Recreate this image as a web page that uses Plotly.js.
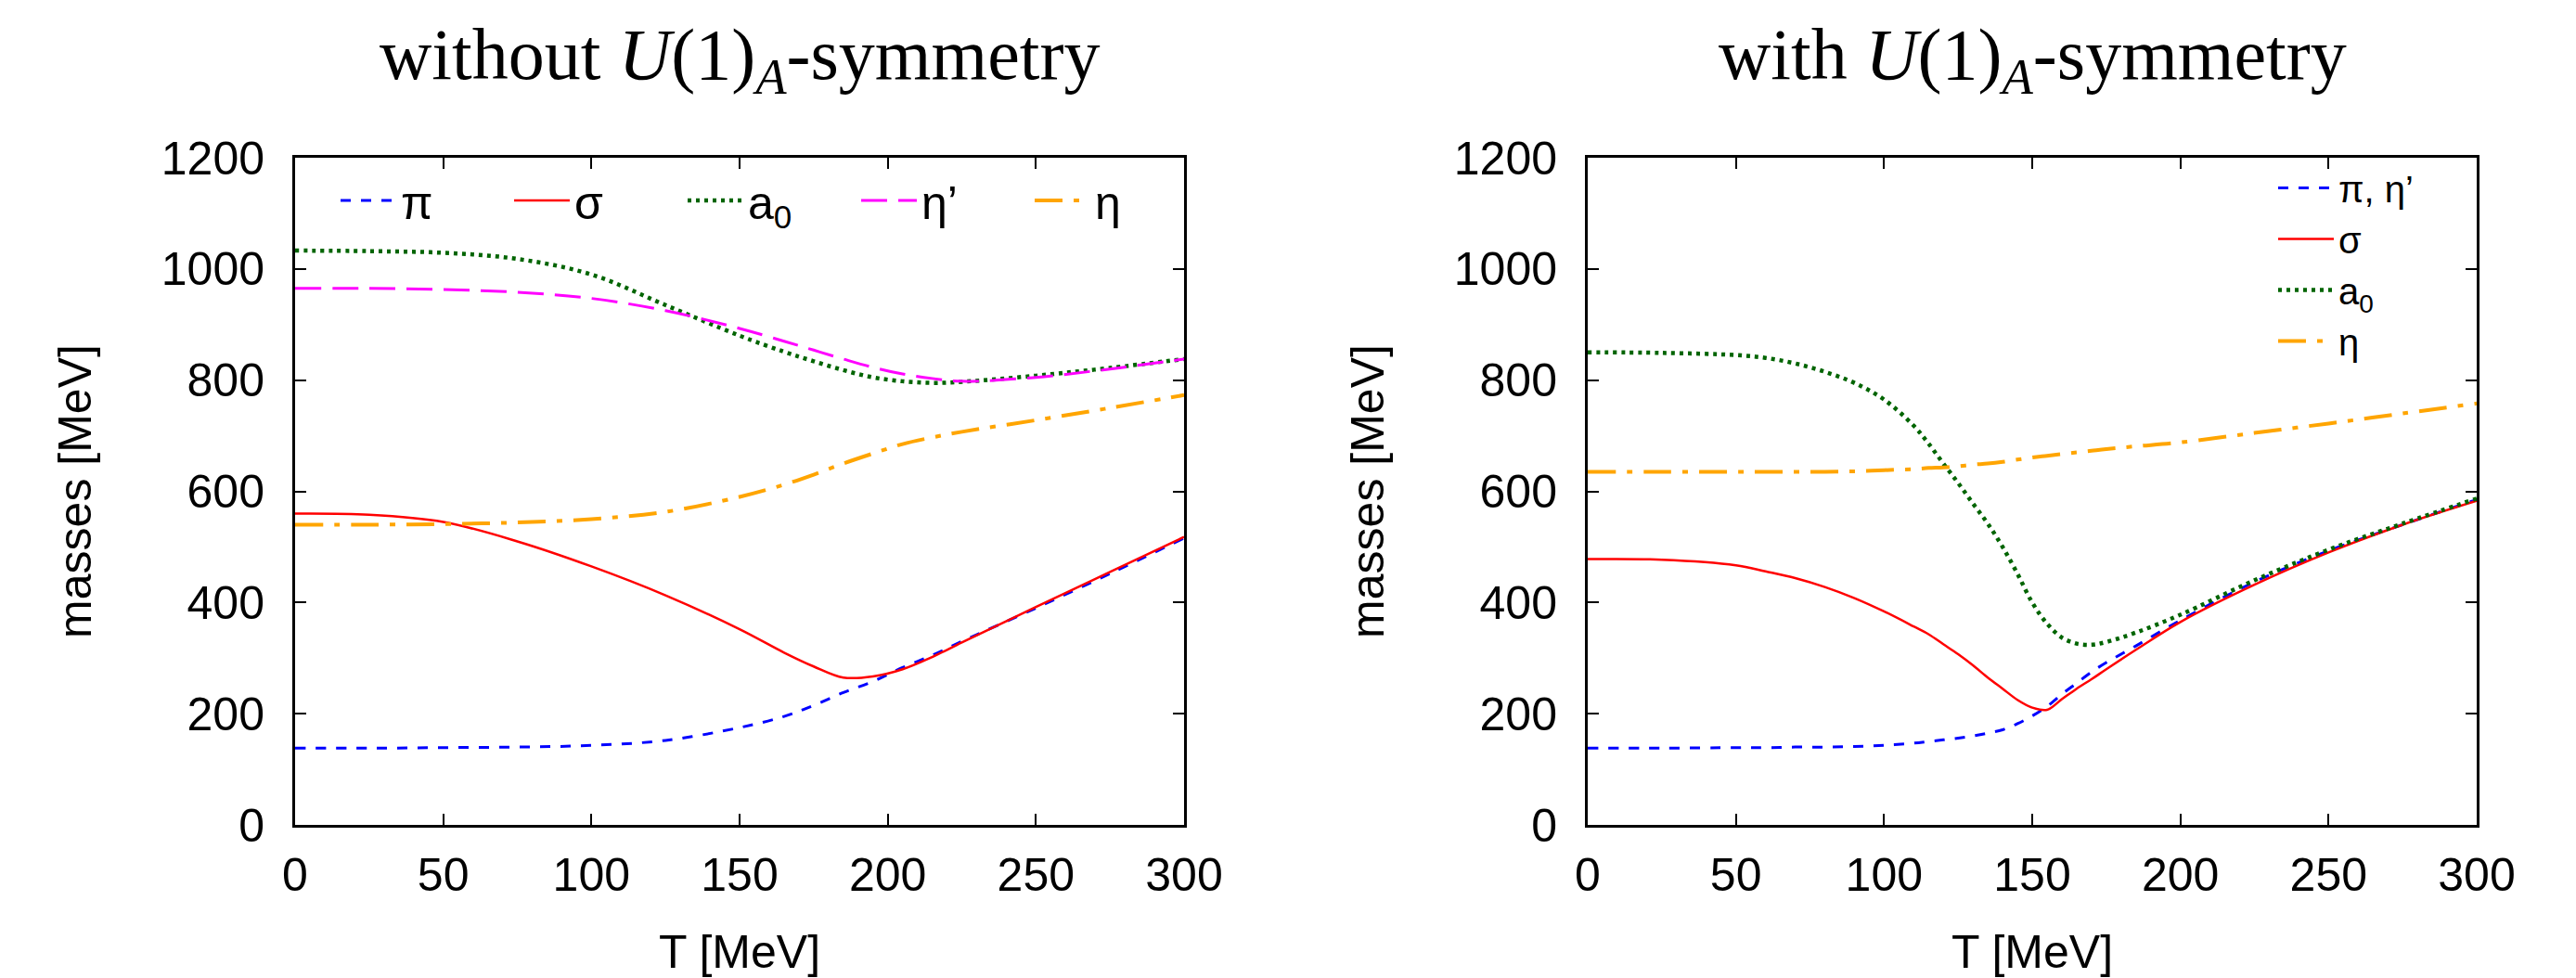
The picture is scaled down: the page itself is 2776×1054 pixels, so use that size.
<!DOCTYPE html>
<html>
<head>
<meta charset="utf-8">
<script src="https://cdn.plot.ly/plotly-3.0.1.min.js"></script>
<style>html,body{margin:0;padding:0;background:#fff;}</style>
</head>
<body>
<div id="chart" style="width:2776px;height:1054px;"></div>
<script>
// ---------- data: left panel (without U(1)_A symmetry) ----------
const T_left = [0, 25, 50, 75, 100, 125, 150, 165, 175, 185, 195, 205, 215, 225, 250, 275, 300];
const pi_left = [138, 138, 139, 140, 143, 152, 175, 195, 215, 238, 258, 283, 305, 330, 390, 452, 516];
const sigma_left = [560, 558, 545, 510, 465, 413, 352, 310, 285, 265, 267, 280, 302, 328, 392, 455, 518];
const a0_left = [1033, 1032, 1029, 1018, 990, 935, 880, 851, 834, 818, 805, 798, 795, 797, 808, 822, 838];
const etap_left = [965, 965, 963, 958, 947, 925, 893, 870, 854, 838, 823, 811, 803, 798, 805, 820, 838];
const eta_left = [540, 540, 541, 544, 550, 563, 590, 612, 630, 650, 668, 685, 697, 707, 728, 750, 773];

// ---------- data: right panel (with U(1)_A symmetry) ----------
const T_right = [0, 25, 50, 60, 70, 80, 90, 100, 110, 115, 120, 125, 130, 135, 140, 145, 150, 155, 160, 165, 170, 175, 185, 200, 225, 250, 275, 300];
const pieta_right = [138, 138, 139, 139, 140, 140, 141, 143, 147, 150, 153, 156, 160, 165, 171, 182, 196, 213, 235, 255, 275, 292, 322, 368, 437, 493, 540, 585];
const sigma_right = [478, 477, 467, 456, 444, 428, 408, 384, 357, 343, 325, 307, 287, 265, 245, 225, 211, 207, 226, 245, 262, 280, 315, 365, 432, 490, 540, 583];
const a0_right = [850, 849, 845, 840, 830, 815, 795, 765, 718, 686, 650, 615, 578, 542, 500, 452, 400, 362, 337, 326, 324, 329, 346, 378, 440, 495, 542, 587];
const eta_right = [635, 635, 635, 635, 635, 635, 636, 638, 640, 642, 643, 645, 648, 650, 653, 657, 661, 664, 667, 670, 673, 676, 681, 688, 705, 722, 740, 758];

// ---------- labels ----------
const titleLeft = 'without <i>U</i>(1)<sub><i>A</i></sub>-symmetry';
const titleRight = 'with <i>U</i>(1)<sub><i>A</i></sub>-symmetry';
const xTitle = 'T [MeV]';
const yTitle = 'masses [MeV]';

// ---------- styles ----------
const BLUE = '#0000ff', RED = '#ff0000', GREEN = '#006400', MAGENTA = '#ff00ff', ORANGE = '#ffa500';
const stBlue = {color: BLUE, width: 3, dash: '11px,11px', shape: 'spline'};
const stRed = {color: RED, width: 2.5, shape: 'spline'};
const stGreen = {color: GREEN, width: 4.5, dash: '4px,5px', shape: 'spline'};
const stMag = {color: MAGENTA, width: 3, dash: '28px,12px', shape: 'spline'};
const stOrange = {color: ORANGE, width: 4, dash: '30px,12px,6px,12px', shape: 'spline'};

const traces = [
  {x: T_left, y: pi_left, name: 'π', line: stBlue},
  {x: T_left, y: sigma_left, name: 'σ', line: stRed},
  {x: T_left, y: a0_left, name: 'a<sub>0</sub>', line: stGreen},
  {x: T_left, y: etap_left, name: 'η’', line: stMag},
  {x: T_left, y: eta_left, name: 'η', line: stOrange},
  {x: T_right, y: pieta_right, name: 'π, η’', line: stBlue, xaxis: 'x2', yaxis: 'y2', legend: 'legend2'},
  {x: T_right, y: sigma_right, name: 'σ', line: stRed, xaxis: 'x2', yaxis: 'y2', legend: 'legend2'},
  {x: T_right, y: a0_right, name: 'a<sub>0</sub>', line: stGreen, xaxis: 'x2', yaxis: 'y2', legend: 'legend2'},
  {x: T_right, y: eta_right, name: 'η', line: stOrange, xaxis: 'x2', yaxis: 'y2', legend: 'legend2'}
].map(t => Object.assign({type: 'scatter', mode: 'lines', hoverinfo: 'skip'}, t));

const W = 2776, H = 1054;
const SANS = 'Liberation Sans, Arial, Helvetica, sans-serif';
const SERIF = 'Liberation Serif, Times New Roman, serif';
const yDom = [1 - 889 / H, 1 - 170 / H];

const axBase = {
  showgrid: false, zeroline: false, showline: true, linecolor: '#000', linewidth: 3,
  mirror: 'allticks', ticks: 'inside', ticklen: 12, tickwidth: 2, tickcolor: '#000',
  tickfont: {family: SANS, size: 50, color: '#000'}, automargin: false
};
const xAx = (dom, anchor) => Object.assign({}, axBase, {
  domain: dom, range: [0, 300], dtick: 50, tick0: 0, anchor: anchor,
  ticklabelstandoff: 8,
  title: {text: xTitle, font: {family: SANS, size: 50, color: '#000'}, standoff: 42}
});
const yAx = (anchor) => Object.assign({}, axBase, {
  domain: yDom, range: [0, 1200], dtick: 200, tick0: 0, anchor: anchor,
  ticklabelstandoff: 20,
  title: {text: yTitle, font: {family: SANS, size: 50, color: '#000'}, standoff: 60}
});

const layout = {
  width: W, height: H,
  margin: {l: 0, r: 0, t: 0, b: 0},
  paper_bgcolor: '#fff', plot_bgcolor: '#fff',
  showlegend: true,
  xaxis: xAx([318 / W, 1276 / W], 'y'),
  yaxis: yAx('x'),
  xaxis2: xAx([1711 / W, 2669 / W], 'y2'),
  yaxis2: yAx('x2'),
  legend: {
    orientation: 'h', x: 362 / W, y: 1 - 177 / H, xanchor: 'left', yanchor: 'top',
    entrywidth: 112, entrywidthmode: 'pixels', bgcolor: 'rgba(0,0,0,0)',
    font: {family: SANS, size: 50, color: '#000'}, itemwidth: 60
  },
  legend2: {
    orientation: 'v', x: 2450 / W, y: 1 - 170 / H, xanchor: 'left', yanchor: 'top',
    bgcolor: 'rgba(0,0,0,0)', tracegroupgap: 0,
    font: {family: SANS, size: 40, color: '#000'}, itemwidth: 60
  },
  annotations: [
    {text: titleLeft, xref: 'paper', yref: 'paper', x: 797 / W, y: 1 - 64 / H, xanchor: 'center', yanchor: 'middle',
     showarrow: false, font: {family: SERIF, size: 78, color: '#000'}},
    {text: titleRight, xref: 'paper', yref: 'paper', x: 2190 / W, y: 1 - 64 / H, xanchor: 'center', yanchor: 'middle',
     showarrow: false, font: {family: SERIF, size: 78, color: '#000'}}
  ]
};

Plotly.newPlot('chart', traces, layout, {staticPlot: true, displayModeBar: false});
</script>
</body>
</html>
